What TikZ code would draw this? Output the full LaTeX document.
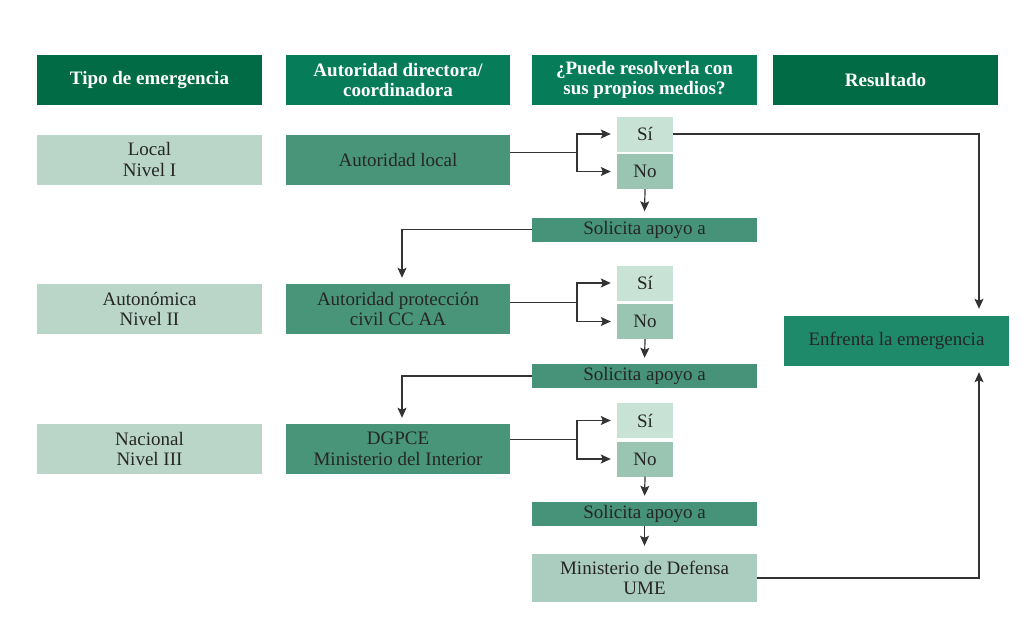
\documentclass[tikz,border=0pt]{standalone}
\usepackage{fontspec}
\setmainfont{Liberation Serif}
\usetikzlibrary{arrows.meta,calc}

\definecolor{hdrdark}{HTML}{006B44}
\definecolor{hdrmid}{HTML}{077C59}
\definecolor{lvl}{HTML}{B9D6C9}
\definecolor{auth}{HTML}{48957A}
\definecolor{sicol}{HTML}{C9E2D6}
\definecolor{nocol}{HTML}{9AC5B2}
\definecolor{solcol}{HTML}{46937A}
\definecolor{enfcol}{HTML}{1E8A69}
\definecolor{umecol}{HTML}{ABCDBF}
\definecolor{txt}{HTML}{262626}
\definecolor{linecol}{HTML}{333333}

\begin{document}
\begin{tikzpicture}[x=1pt,y=-1pt,
  box/.style={rectangle, inner sep=0pt, align=center, text=txt,
    font=\fontsize{19}{20.5}\selectfont},
  hdr/.style={box, text=white, font=\fontsize{19}{20.5}\selectfont\bfseries,
    minimum width=225pt, minimum height=50pt},
  wide/.style={box, minimum width=225pt, minimum height=50pt},
  yn/.style={box, minimum width=56pt, minimum height=35pt},
  sol/.style={box, fill=solcol, minimum width=225pt, minimum height=24pt},
  conn/.style={draw=linecol, line width=1.2pt},
  arr/.style={conn, -{Stealth[length=10pt,width=9pt,inset=2pt]}, shorten >=6pt},
]
\useasboundingbox (0,0) rectangle (1023,629);

% column headers
\node[hdr, fill=hdrdark] (h1) at (149.5,80) {Tipo de emergencia};
\node[hdr, fill=hdrmid, minimum width=224pt] (h2) at (398,80) {Autoridad directora/\\coordinadora};
\node[hdr, fill=hdrmid] (h3) at (644.5,80) {¿Puede resolverla con\\sus propios medios?};
\node[hdr, fill=hdrdark] (h4) at (885.5,80) {Resultado};

% emergency levels
\node[wide, fill=lvl] (l1) at (149.5,159.5) {Local\\Nivel I};
\node[wide, fill=lvl] (l2) at (149.5,309) {Autonómica\\Nivel II};
\node[wide, fill=lvl] (l3) at (149.5,449) {Nacional\\Nivel III};

% directing authorities
\node[wide, fill=auth, minimum width=224pt] (c1) at (398,159.5) {Autoridad local};
\node[wide, fill=auth, minimum width=224pt] (c2) at (398,309) {Autoridad protección\\civil CC AA};
\node[wide, fill=auth, minimum width=224pt] (c3) at (398,449) {DGPCE\\Ministerio del Interior};

% yes / no answers
\node[yn, fill=sicol] (s1) at (645,134) {Sí};
\node[yn, fill=nocol] (n1) at (645,171.5) {No};
\node[yn, fill=sicol] (s2) at (645,283) {Sí};
\node[yn, fill=nocol] (n2) at (645,321.5) {No};
\node[yn, fill=sicol] (s3) at (645,420.5) {Sí};
\node[yn, fill=nocol] (n3) at (645,459) {No};

% requests for support
\node[sol] (a1) at (644.5,229.5) {Solicita apoyo a};
\node[sol] (a2) at (644.5,376) {Solicita apoyo a};
\node[sol] (a3) at (644.5,514) {Solicita apoyo a};

\node[wide, fill=umecol, minimum height=48pt] (ume) at (644.5,578) {Ministerio de Defensa\\UME};
\node[wide, fill=enfcol] (enf) at (896.5,341) {Enfrenta la emergencia};

% branch points and the return column
\coordinate (b1) at (577,152.75);
\coordinate (b2) at (577,302.25);
\coordinate (b3) at (577,439.75);
\coordinate (r) at (979,0);
\coordinate (k) at (402,0);

\foreach \i in {1,2,3}{
  \draw[conn] (c\i.east |- b\i) -- (b\i);
  \draw[arr] (b\i) |- (s\i.west);
  \draw[arr] (b\i) |- (n\i.west);
  \draw[arr] (n\i.south) -- (a\i.north);
}

\draw[arr] (a1.west) -| (c2.north -| k);
\draw[arr] (a2.west) -| (c3.north -| k);
\draw[arr, shorten >=8pt] (a3.south) -- (ume.north);

\draw[arr, shorten >=7pt] (s1.east) -| (enf.north -| r);
\draw[arr, shorten >=6pt] (ume.east) -| (enf.south -| r);
\end{tikzpicture}
\end{document}
